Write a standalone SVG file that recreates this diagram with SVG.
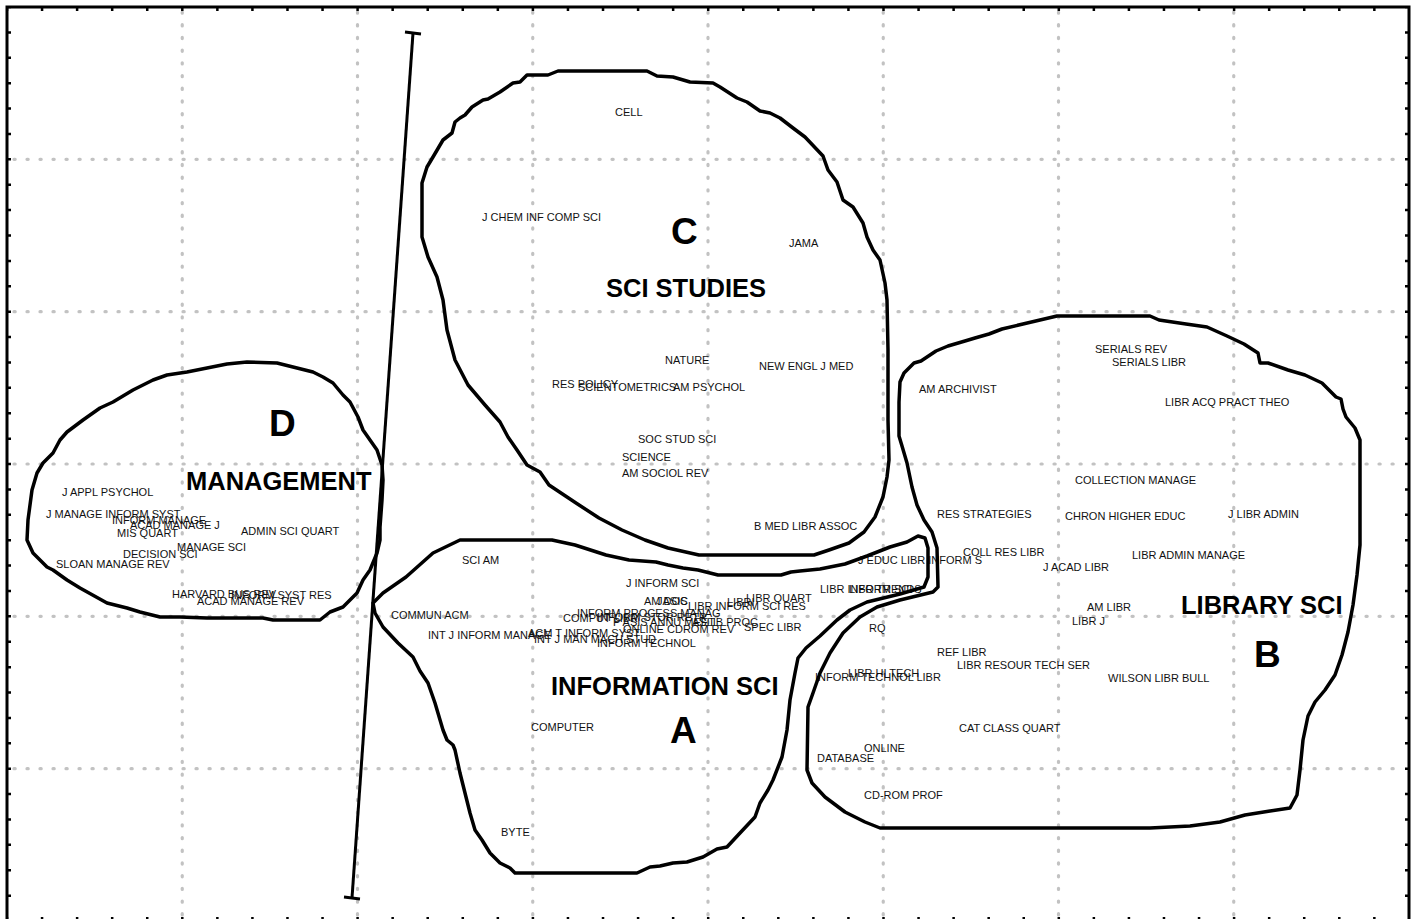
<svg xmlns="http://www.w3.org/2000/svg" width="1413" height="919" viewBox="0 0 1413 919">
<style>
.grid{stroke:#c2c2c2;stroke-width:3.2;stroke-linecap:round;fill:none}
.gh{stroke-dasharray:1.2 11.8}
.gv{stroke-dasharray:1.2 11.5}
.tick{stroke:#000;stroke-width:4;fill:none}
.th{stroke-dasharray:2.5 32.56;stroke-dashoffset:1.25}
.tv{stroke-dasharray:2.5 22.89;stroke-dashoffset:1.25}
.blob{fill:none;stroke:#000;stroke-width:3.5;stroke-linejoin:round;stroke-linecap:round}
.lbl{font-family:"Liberation Sans",Arial,sans-serif;font-size:11px;fill:#111}
.big{font-family:"Liberation Sans",Arial,sans-serif;font-size:25.5px;font-weight:bold;fill:#000}
.let{font-family:"Liberation Sans",Arial,sans-serif;font-size:37px;font-weight:bold;fill:#000}
</style>
<rect x="0" y="0" width="1413" height="919" fill="#fff"/>
<g id="grid">
<path class="grid gv" d="M182.25 12V919M357.5 12V919M532.75 12V919M708 12V919M883.25 12V919M1058.5 12V919M1233.75 12V919"/>
<path class="grid gh" d="M14 159.3H1405M14 311.7H1405M14 464H1405M14 616.3H1405M14 768.7H1405"/>
</g>
<g id="frame">
<rect x="7" y="7" width="1402" height="914" fill="none" stroke="#000" stroke-width="3"/>
<path class="tick th" d="M7 9H1409M7 919H1409"/>
<path class="tick tv" d="M9 7V921M1407 7V921"/>
</g>
<g id="axis">
<path d="M413 33L352 898" stroke="#000" stroke-width="3" fill="none"/>
<path d="M405 32L421 34M344 897L360 899" stroke="#000" stroke-width="3" fill="none"/>
</g>
<g id="labels-C">
<text class="lbl" x="615" y="116">CELL</text>
<text class="lbl" x="482" y="221">J CHEM INF COMP SCI</text>
<text class="lbl" x="789" y="247">JAMA</text>
<text class="lbl" x="665" y="364">NATURE</text>
<text class="lbl" x="759" y="370">NEW ENGL J MED</text>
<text class="lbl" x="552" y="388">RES POLICY</text>
<text class="lbl" x="578" y="391">SCIENTOMETRICS</text>
<text class="lbl" x="673" y="391">AM PSYCHOL</text>
<text class="lbl" x="638" y="443">SOC STUD SCI</text>
<text class="lbl" x="622" y="461">SCIENCE</text>
<text class="lbl" x="622" y="477">AM SOCIOL REV</text>
<text class="lbl" x="754" y="530">B MED LIBR ASSOC</text>
</g>
<g id="labels-D">
<text class="lbl" x="62" y="496">J APPL PSYCHOL</text>
<text class="lbl" x="46" y="518">J MANAGE INFORM SYST</text>
<text class="lbl" x="112" y="524">INFORM MANAGE</text>
<text class="lbl" x="130" y="529">ACAD MANAGE J</text>
<text class="lbl" x="117" y="537">MIS QUART</text>
<text class="lbl" x="241" y="535">ADMIN SCI QUART</text>
<text class="lbl" x="177" y="551">MANAGE SCI</text>
<text class="lbl" x="123" y="558">DECISION SCI</text>
<text class="lbl" x="56" y="568">SLOAN MANAGE REV</text>
<text class="lbl" x="172" y="598">HARVARD BUS REV</text>
<text class="lbl" x="231" y="599">INFORM SYST RES</text>
<text class="lbl" x="197" y="605">ACAD MANAGE REV</text>
</g>
<g id="labels-A">
<text class="lbl" x="462" y="564">SCI AM</text>
<text class="lbl" x="626" y="587">J INFORM SCI</text>
<text class="lbl" x="391" y="619">COMMUN ACM</text>
<text class="lbl" x="428" y="639">INT J INFORM MANAGE</text>
<text class="lbl" x="528" y="637">ACM T INFORM SYST</text>
<text class="lbl" x="534" y="643">INT J MAN MACH STUD</text>
<text class="lbl" x="597" y="647">INFORM TECHNOL</text>
<text class="lbl" x="623" y="633">ONLINE CDROM REV</text>
<text class="lbl" x="744" y="631">SPEC LIBR</text>
<text class="lbl" x="746" y="602">LIBR QUART</text>
<text class="lbl" x="727" y="606">LIBRI</text>
<text class="lbl" x="644" y="605">AM DOC</text>
<text class="lbl" x="657" y="605">JASIS</text>
<text class="lbl" x="688" y="610">LIBR INFORM SCI RES</text>
<text class="lbl" x="577" y="617">INFORM PROCESS MANAG</text>
<text class="lbl" x="563" y="622">COMPUT LIBR</text>
<text class="lbl" x="597" y="621">INFORM STOR RETR</text>
<text class="lbl" x="613" y="626">P ASIS ANNU MEET</text>
<text class="lbl" x="692" y="626">ASLIB PROC</text>
<text class="lbl" x="531" y="731">COMPUTER</text>
<text class="lbl" x="501" y="836">BYTE</text>
</g>
<g id="labels-B">
<text class="lbl" x="1095" y="353">SERIALS REV</text>
<text class="lbl" x="1112" y="366">SERIALS LIBR</text>
<text class="lbl" x="919" y="393">AM ARCHIVIST</text>
<text class="lbl" x="1165" y="406">LIBR ACQ PRACT THEO</text>
<text class="lbl" x="1075" y="484">COLLECTION MANAGE</text>
<text class="lbl" x="937" y="518">RES STRATEGIES</text>
<text class="lbl" x="1065" y="520">CHRON HIGHER EDUC</text>
<text class="lbl" x="1228" y="518">J LIBR ADMIN</text>
<text class="lbl" x="963" y="556">COLL RES LIBR</text>
<text class="lbl" x="858" y="564">J EDUC LIBR INFORM S</text>
<text class="lbl" x="1132" y="559">LIBR ADMIN MANAGE</text>
<text class="lbl" x="1043" y="571">J ACAD LIBR</text>
<text class="lbl" x="820" y="593">LIBR INFORM SCI</text>
<text class="lbl" x="849" y="593">LIBR TRENDS</text>
<text class="lbl" x="1087" y="611">AM LIBR</text>
<text class="lbl" x="1072" y="625">LIBR J</text>
<text class="lbl" x="869" y="632">RQ</text>
<text class="lbl" x="937" y="656">REF LIBR</text>
<text class="lbl" x="957" y="669">LIBR RESOUR TECH SER</text>
<text class="lbl" x="848" y="677">LIBR HI TECH</text>
<text class="lbl" x="815" y="681">INFORM TECHNOL LIBR</text>
<text class="lbl" x="1108" y="682">WILSON LIBR BULL</text>
<text class="lbl" x="959" y="732">CAT CLASS QUART</text>
<text class="lbl" x="864" y="752">ONLINE</text>
<text class="lbl" x="817" y="762">DATABASE</text>
<text class="lbl" x="864" y="799">CD-ROM PROF</text>
</g>
<g id="titles">
<text class="let" x="671" y="244">C</text>
<text class="big" x="606" y="297">SCI STUDIES</text>
<text class="let" x="269" y="436">D</text>
<text class="big" x="186" y="490">MANAGEMENT</text>
<text class="big" x="551" y="695">INFORMATION SCI</text>
<text class="let" x="670" y="743">A</text>
<text class="big" x="1181" y="614">LIBRARY SCI</text>
<text class="let" x="1254" y="667">B</text>
</g>
<g id="cluster-C">
<path class="blob" d="M558 71L647 71L657 76L673 77L690 82L713 83L720 87L737 98L747 102L760 111L770 113L780 118L793 128L805 137L823 156L828 170L837 182L843 200L853 207L863 223L867 237L873 250L880 260L885 283L887 300L888 350L888 420L889 460L887 477L883 497L875 517L864 532L849 543L829 550L814 555L699 555L668 548L645 540L622 530L599 518L576 503L564 495L549 485L540 472L527 465L517 450L508 437L500 422L485 405L468 385L455 360L447 330L443 300L437 277L428 257L422 237L422 183L427 167L433 157L443 140L452 133L455 122L460 118L465 115L472 107L483 100L488 99L500 92L513 83L520 82L527 75L548 75Z"/>
</g>
<g id="cluster-A">
<path class="blob" d="M373 603L383 593L406 577L433 553L460 540L552 540L575 545L606 555L629 560L656 562L668 565L683 568L698 570L718 575L781 575L791 572L800 571L820 569L845 564L867 556L890 547L907 542L918 536L925 538L928 548L928 577L924 587L900 594L867 602L850 610L837 620L820 636L806 648L798 658L795 673L790 700L787 730L782 757L773 780L768 790L760 803L755 817L740 833L727 847L717 849L703 857L687 862L673 863L660 866L650 867L637 873L515 873L510 868L500 863L490 853L482 840L475 830L470 813L465 793L460 773L455 750L453 745L447 740L443 730L435 703L428 683L420 671L413 657L398 643L383 627L375 613Z"/>
</g>
<g id="cluster-B">
<path class="blob" d="M1057 316L1150 316L1159 320L1186 324L1207 327L1227 336L1244 344L1258 353L1260 363L1268 363L1288 370L1305 375L1322 383L1336 397L1341 399L1343 409L1346 417L1355 428L1360 440L1360 545L1357 575L1353 605L1348 632L1342 655L1335 675L1325 690L1315 702L1308 716L1303 740L1300 770L1297 795L1290 808L1270 811L1245 815L1220 822L1190 826L1150 828L880 828L865 822L845 812L833 803L825 797L812 783L807 770L808 707L813 693L820 673L830 653L843 633L860 617L877 607L900 600L933 592L938 587L937 548L932 532L924 520L917 505L912 487L907 463L902 446L899 436L899 402L900 382L904 373L914 363L921 361L936 351L948 346L965 341L975 338L989 334L1002 329L1023 324L1040 320Z"/>
</g>
<g id="cluster-D">
<path class="blob" d="M247 362L277 363L293 367L313 372L323 377L333 383L343 395L350 402L358 417L363 430L370 440L377 450L382 465L383 480L382 500L380 527L380 540L377 553L370 570L363 580L357 593L343 607L330 612L320 620L273 620L263 618L207 618L180 617L160 617L140 612L127 608L107 603L80 588L67 580L53 570L47 567L33 553L27 540L28 520L32 490L37 473L43 463L53 453L60 440L67 432L83 420L100 408L113 402L133 390L153 380L167 375L187 372L207 368L227 364Z"/>
</g>
</svg>
